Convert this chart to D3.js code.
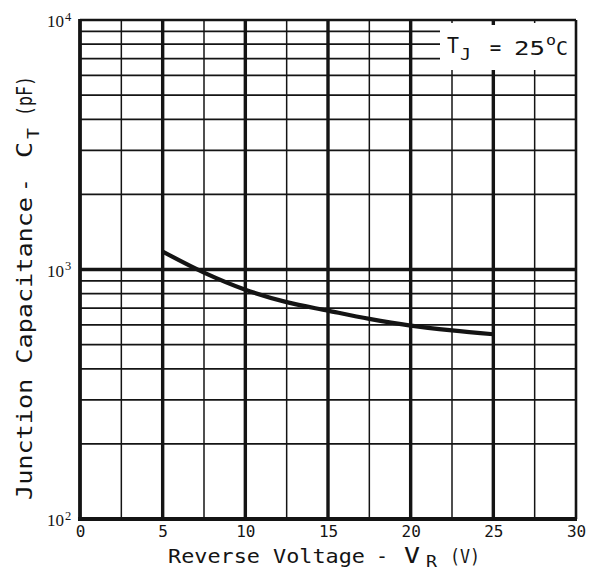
<!DOCTYPE html>
<html>
<head>
<meta charset="utf-8">
<script src="https://cdn.jsdelivr.net/npm/d3@7"></script>
<style>
  body { margin: 0; background: #fff; }
  svg text { fill: #141414; }
</style>
</head>
<body>
<svg id="chart"></svg>
<script>
const width = 598, height = 572;

// data
const voltage = [5, 7.5, 10, 12.5, 15, 17.5, 20, 22.5, 25];
const capacitance = [1180, 972, 830, 740, 684, 634, 596, 570, 550];

// axes and grid
const vMajor = [0, 5, 10, 15, 20, 25, 30];
const vMinor = [2.5, 7.5, 12.5, 17.5, 22.5, 27.5];
const cDecades = [100, 1000, 10000];
const cDecadeExp = ["2", "3", "4"];
const cMinor = [200, 300, 400, 500, 600, 700, 800, 900,
                2000, 3000, 4000, 5000, 6000, 7000, 8000, 9000];

const plotLeft = 80, plotRight = 576, plotTop = 20, plotBottom = 519;
const ink = "#141414";

const svg = d3.select("#chart")
    .attr("width", width)
    .attr("height", height);

const x = d3.scaleLinear().domain([0, 30]).range([plotLeft, plotRight]);
const y = d3.scaleLog().domain([100, 10000]).range([plotBottom, plotTop]);

const grid = svg.append("g");

// horizontal lines
grid.selectAll(".hminor")
    .data(cMinor)
    .join("line")
    .attr("x1", plotLeft).attr("x2", plotRight)
    .attr("y1", d => y(d)).attr("y2", d => y(d))
    .attr("stroke", ink).attr("stroke-width", 1.7);

grid.append("line")
    .attr("x1", plotLeft).attr("x2", plotRight)
    .attr("y1", y(1000)).attr("y2", y(1000))
    .attr("stroke", ink).attr("stroke-width", 3.4);

// vertical lines
grid.selectAll(".vminor")
    .data(vMinor)
    .join("line")
    .attr("x1", d => x(d)).attr("x2", d => x(d))
    .attr("y1", plotTop).attr("y2", plotBottom)
    .attr("stroke", ink).attr("stroke-width", 1.5);

grid.selectAll(".vmajor")
    .data(vMajor.slice(1, -1))
    .join("line")
    .attr("x1", d => x(d)).attr("x2", d => x(d))
    .attr("y1", plotTop).attr("y2", plotBottom)
    .attr("stroke", ink).attr("stroke-width", 3.4);

// blank box behind the temperature note
svg.append("rect")
    .attr("x", 440).attr("y", plotTop)
    .attr("width", plotRight - 440).attr("height", 70 - plotTop)
    .attr("fill", "#fff");

// little stubs on the top edge inside the box
svg.selectAll(".stub")
    .data([22.5, 25, 27.5])
    .join("line")
    .attr("x1", d => x(d)).attr("x2", d => x(d))
    .attr("y1", plotTop).attr("y2", d => plotTop + (d === 25 ? 5 : 3))
    .attr("stroke", ink).attr("stroke-width", d => d === 25 ? 3.4 : 1.5);

// frame
svg.append("line").attr("x1", plotLeft).attr("x2", plotRight).attr("y1", plotTop).attr("y2", plotTop)
    .attr("stroke", ink).attr("stroke-width", 2.5);
svg.append("line").attr("x1", plotRight).attr("x2", plotRight).attr("y1", plotTop).attr("y2", plotBottom)
    .attr("stroke", ink).attr("stroke-width", 2.6);
svg.append("line").attr("x1", plotLeft).attr("x2", plotLeft).attr("y1", plotTop - 1).attr("y2", plotBottom + 2)
    .attr("stroke", ink).attr("stroke-width", 3.8);
svg.append("line").attr("x1", plotLeft - 2).attr("x2", plotRight + 1).attr("y1", plotBottom).attr("y2", plotBottom)
    .attr("stroke", ink).attr("stroke-width", 3.8);

// curve
const line = d3.line()
    .x((d, i) => x(voltage[i]))
    .y(d => y(d))
    .curve(d3.curveCatmullRom.alpha(0.5));

svg.append("path")
    .datum(capacitance)
    .attr("d", line)
    .attr("fill", "none")
    .attr("stroke", ink)
    .attr("stroke-width", 4.2)
    .attr("stroke-linecap", "butt");

// x tick labels
const xAxis = svg.append("g")
    .attr("transform", `translate(0,${plotBottom})`)
    .call(d3.axisBottom(x).tickValues(vMajor).tickSize(0).tickPadding(7));
xAxis.select(".domain").remove();
xAxis.selectAll("text")
    .attr("font-family", "DejaVu Sans Mono")
    .attr("font-size", 16)
    .attr("fill", ink);

// y tick labels: 10 with a raised exponent
const yLabels = svg.selectAll(".ylab")
    .data(cDecades)
    .join("text")
    .attr("font-family", "Liberation Serif")
    .attr("font-size", 17)
    .attr("x", 47)
    .attr("y", d => y(d) + 7);
yLabels.append("tspan").text("10");
yLabels.append("tspan")
    .attr("font-size", 12.5)
    .attr("dx", 1)
    .attr("dy", -6.5)
    .text((d, i) => cDecadeExp[i]);

// x axis title
const mono = "DejaVu Sans Mono";
const xt = svg.append("g").attr("font-family", mono).attr("fill", ink);
xt.append("text").attr("x", 168).attr("y", 562.5).attr("font-size", 20)
    .attr("textLength", 197).attr("lengthAdjust", "spacingAndGlyphs").text("Reverse Voltage");
xt.append("text").attr("x", 382).attr("y", 562.5).attr("font-size", 20)
    .attr("text-anchor", "middle").text("-");
xt.append("text").attr("x", 404).attr("y", 562.5).attr("font-size", 21)
    .attr("textLength", 16).attr("lengthAdjust", "spacingAndGlyphs").text("V");
xt.append("text").attr("x", 426).attr("y", 567).attr("font-size", 15)
    .attr("textLength", 11).attr("lengthAdjust", "spacingAndGlyphs").text("R");
xt.append("text").attr("x", 450).attr("y", 562.5).attr("font-size", 20)
    .attr("textLength", 30).attr("lengthAdjust", "spacingAndGlyphs").text("(V)");

// y axis title, drawn in a rotated frame (tx = -screenY, ty = screenX)
const yt = svg.append("g").attr("transform", "rotate(-90)")
    .attr("font-family", mono).attr("fill", ink);
yt.append("text").attr("x", -500).attr("y", 32).attr("font-size", 22)
    .attr("textLength", 303).attr("lengthAdjust", "spacingAndGlyphs").text("Junction Capacitance");
yt.append("text").attr("x", -185).attr("y", 32).attr("font-size", 22)
    .attr("text-anchor", "middle").text("-");
yt.append("text").attr("x", -158).attr("y", 32).attr("font-size", 22)
    .attr("textLength", 16).attr("lengthAdjust", "spacingAndGlyphs").text("C");
yt.append("text").attr("x", -139).attr("y", 39).attr("font-size", 16)
    .attr("textLength", 11).attr("lengthAdjust", "spacingAndGlyphs").text("T");
yt.append("text").attr("x", -116).attr("y", 32).attr("font-size", 22)
    .attr("textLength", 40).attr("lengthAdjust", "spacingAndGlyphs").text("(pF)");

// temperature note
const note = svg.append("g").attr("font-family", mono).attr("fill", ink);
note.append("text").attr("x", 447).attr("y", 53).attr("font-size", 22)
    .attr("textLength", 12).attr("lengthAdjust", "spacingAndGlyphs").text("T");
note.append("text").attr("x", 460).attr("y", 60).attr("font-size", 16)
    .attr("textLength", 11).attr("lengthAdjust", "spacingAndGlyphs").text("J");
note.append("text").attr("x", 495.5).attr("y", 54).attr("font-size", 19)
    .attr("text-anchor", "middle").text("=");
note.append("text").attr("x", 514).attr("y", 55).attr("font-size", 19)
    .attr("textLength", 31).attr("lengthAdjust", "spacingAndGlyphs").text("25");
note.append("text").attr("x", 546).attr("y", 45).attr("font-size", 14)
    .attr("textLength", 10).attr("lengthAdjust", "spacingAndGlyphs").text("o");
note.append("text").attr("x", 556).attr("y", 55).attr("font-size", 19)
    .attr("textLength", 12).attr("lengthAdjust", "spacingAndGlyphs").text("C");
</script>
</body>
</html>
